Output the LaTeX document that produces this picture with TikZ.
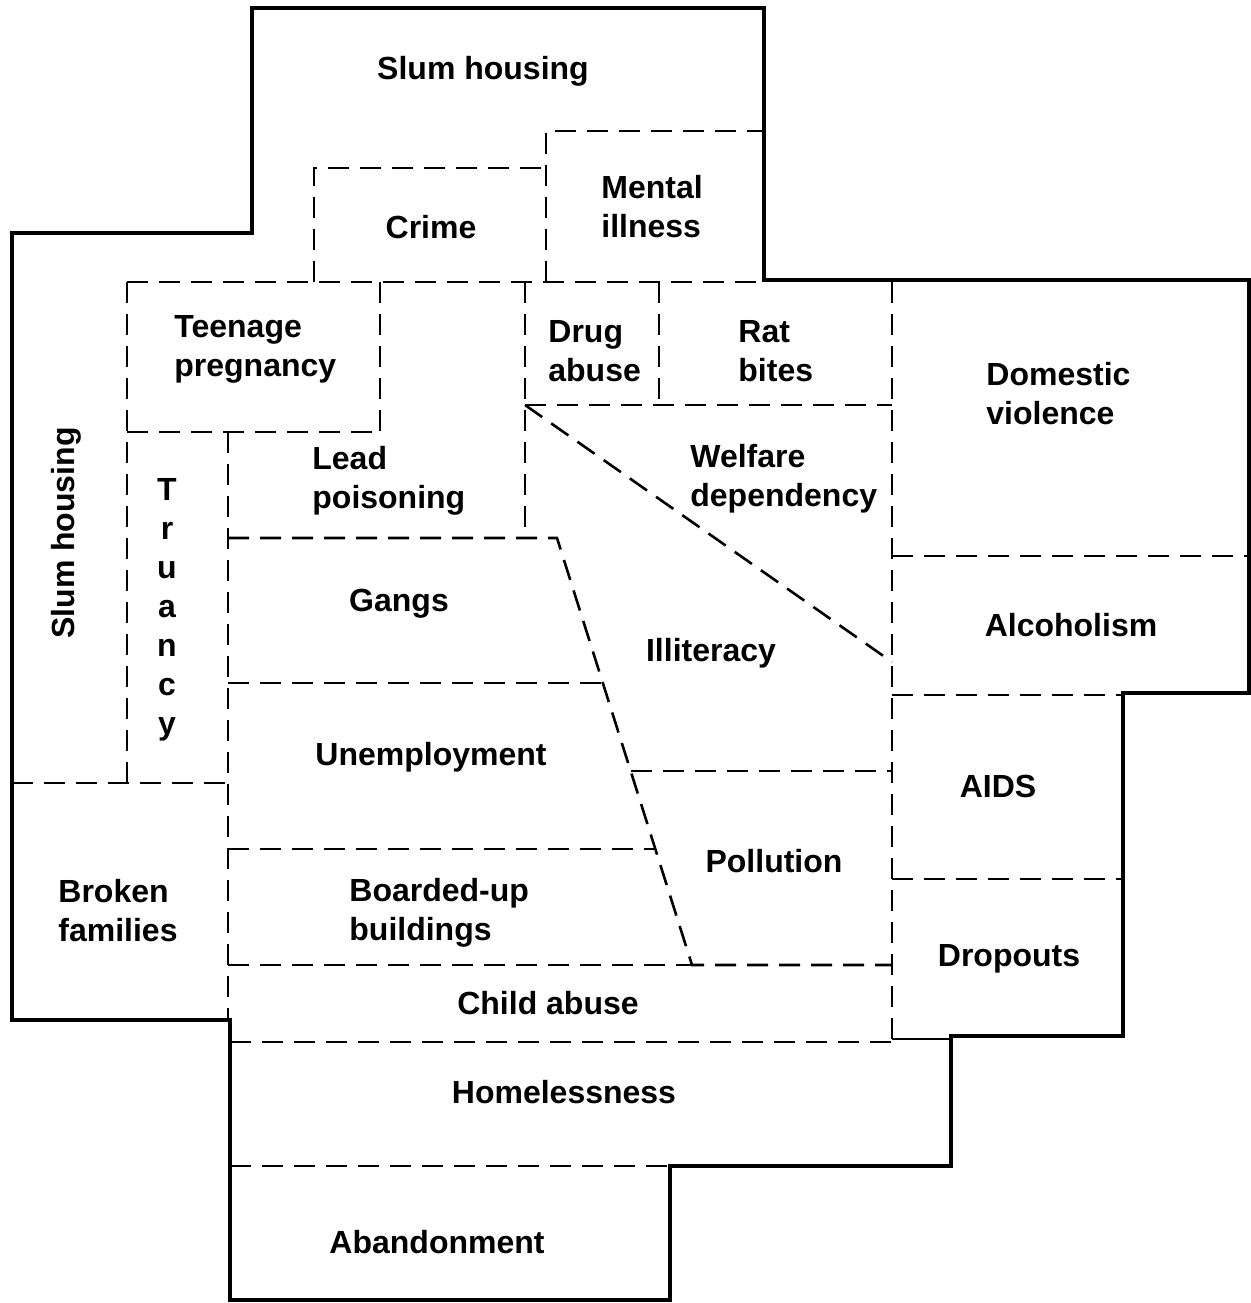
\documentclass[tikz,border=0pt]{standalone}
\usepackage{fontspec}
\setmainfont{Liberation Sans}
\usepackage{tikz}

\begin{document}
\begin{tikzpicture}[
  x=0.5pt, y=-0.5pt,
  wall/.style={line width=2pt, line join=miter},
  part/.style={line width=1.3pt, dash pattern=on 10.5pt off 5.5pt},
  thin/.style={line width=1.3pt},
  txt/.style={font=\fontsize{16}{19.5}\selectfont\bfseries, inner sep=0pt, align=center},
  lbl/.style={txt, yshift=-1.5pt},
  lbll/.style={lbl, align=left, anchor=west}
]
\useasboundingbox (0,0) rectangle (1251,1303);

\draw[wall] (252,8) -- (764,8) -- (764,280) -- (1249,280) -- (1249,693) -- (1123,693)
  -- (1123,1036) -- (951,1036) -- (951,1166) -- (670,1166) -- (670,1300) -- (230,1300)
  -- (230,1020) -- (12,1020) -- (12,233) -- (252,233) -- cycle;

\draw[part] (546,282) -- (546,131) -- (764,131);
\draw[part] (314,282) -- (314,168) -- (546,168);
\draw[part] (127,282) -- (764,282);
\draw[part] (127,282) -- (127,783);
\draw[part] (12,783) -- (228,783);
\draw[part] (380,282) -- (380,432);
\draw[part] (127,432) -- (380,432);
\draw[part] (228,432) -- (228,1020);
\draw[part] (525,282) -- (525,538);
\draw[part] (659,282) -- (659,405);
\draw[part] (525,405) -- (892,405);
\draw[part] (892,282) -- (892,1040);
\draw[part] (892,556) -- (1249,556);
\draw[part] (892,695) -- (1123,695);
\draw[part] (892,879) -- (1123,879);
\draw[part] (525,405) -- (892,662);
\draw[part] (228,538) -- (557,538) -- (692,965) -- (892,965);
\draw[part] (228,965) -- (692,965);
\draw[part] (228,683) -- (603,683);
\draw[part] (228,849) -- (655,849);
\draw[part] (631,771) -- (892,771);
\draw[part] (230,1042) -- (892,1042);
\draw[thin] (892,1039) -- (951,1039);
\draw[part] (230,1166) -- (670,1166);

\node[lbl] (slumtop) at (483,68) {Slum housing};
\node[lbl] (crime) at (431,224) {Crime};
\node[lbll] (mental) at (601,204) {Mental\\illness};
\node[lbll] (teen) at (174,346) {Teenage\\pregnancy};
\node[lbll] (drug) at (548,348) {Drug\\abuse};
\node[lbll] (rat) at (738,348) {Rat\\bites};
\node[lbll] (domestic) at (986,391) {Domestic\\violence};
\node[lbll] (lead) at (312,478) {Lead\\poisoning};
\node[lbll] (welfare) at (690,476) {Welfare\\dependency};
\node[txt, rotate=90] (slumleft) at (66,533) {Slum housing};
\node[lbl] (truancy) at (167,607) {T\\r\\u\\a\\n\\c\\y};
\node[lbl] (gangs) at (399,601) {Gangs};
\node[lbl] (illiteracy) at (711,650) {Illiteracy};
\node[lbl] (alcohol) at (1071,622) {Alcoholism};
\node[lbl] (unemploy) at (431,754) {Unemployment};
\node[lbl] (aids) at (998,783) {AIDS};
\node[lbl] (pollution) at (774,858) {Pollution};
\node[lbll] (broken) at (58,908) {Broken\\families};
\node[lbll] (boarded) at (349,910) {Boarded-up\\buildings};
\node[lbl] (dropouts) at (1009,956) {Dropouts};
\node[lbl] (childabuse) at (548,1000) {Child abuse};
\node[lbl] (homeless) at (564,1089) {Homelessness};
\node[lbl] (abandon) at (437,1239) {Abandonment};
\end{tikzpicture}
\end{document}
